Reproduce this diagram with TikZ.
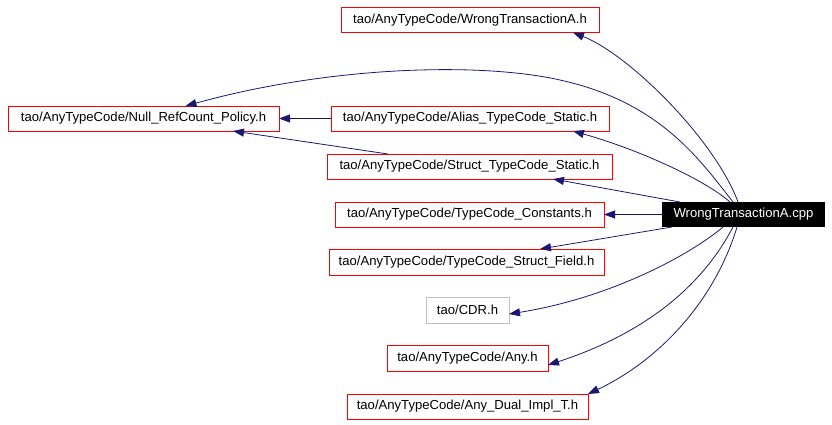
\documentclass[tikz,border=0pt]{standalone}
\usepackage{fontspec}
\setmainfont{Liberation Sans}
\usetikzlibrary{arrows.meta}
\definecolor{edgeblue}{RGB}{25,25,112}
\definecolor{boxred}{RGB}{255,0,0}
\definecolor{boxgray}{RGB}{191,191,191}
\begin{document}
\begin{tikzpicture}[x=1pt,y=-1pt,
  every node/.style={font=\fontsize{13.1}{15}\selectfont, inner sep=0pt, outer sep=0pt, line width=1pt},
  redbox/.style={draw=boxred, minimum height=25pt},
  graybox/.style={draw=boxgray, minimum height=26pt},
  mainbox/.style={fill=black, text=white, minimum height=25pt},
  dep/.style={draw=edgeblue, line width=0.8pt, -{Triangle[length=11pt,width=8pt]}}]
\useasboundingbox (0,0) rectangle (832,424);
\node[redbox, minimum width=258pt] (wth) at (470,20) {tao/AnyTypeCode/WrongTransactionA.h};
\node[redbox, minimum width=271pt] (null) at (143.5,118.5) {tao/AnyTypeCode/Null\_RefCount\_Policy.h};
\node[redbox, minimum width=278pt] (alias) at (470,118.5) {tao/AnyTypeCode/Alias\_TypeCode\_Static.h};
\node[redbox, minimum width=285pt] (struct) at (469.5,166.5) {tao/AnyTypeCode/Struct\_TypeCode\_Static.h};
\node[redbox, minimum width=269pt] (const) at (469.5,214.5) {tao/AnyTypeCode/TypeCode\_Constants.h};
\node[mainbox, minimum width=163pt] (cpp) at (743.5,214.5) {WrongTransactionA.cpp};
\node[redbox, minimum width=275pt, minimum height=26pt] (sfield) at (466.5,262) {tao/AnyTypeCode/TypeCode\_Struct\_Field.h};
\node[graybox, minimum width=83pt] (cdr) at (467.5,310) {tao/CDR.h};
\node[redbox, minimum width=161pt, minimum height=26pt] (any) at (467.5,358) {tao/AnyTypeCode/Any.h};
\node[redbox, minimum width=241pt] (dual) at (467.5,406.5) {tao/AnyTypeCode/Any\_Dual\_Impl\_T.h};

\draw[dep] ([xshift=-5.5pt]cpp.north) .. controls (715,140) and (630,55) .. ([xshift=103pt]wth.south);
\draw[dep] ([xshift=-10.5pt]cpp.north) .. controls (700,160) and (660,102) .. (560,80) .. controls (480,62) and (330,66) .. ([xshift=42pt]null.north);
\draw[dep] (alias.west) -- (null.east);
\draw[dep] ([xshift=-81.5pt]struct.north) -- ([xshift=89.5pt]null.south);
\draw[dep] ([xshift=-13.5pt]cpp.north) .. controls (705,180) and (640,150) .. ([xshift=103pt]alias.south);
\draw[dep] ([xshift=-63.5pt]cpp.north) -- ([xshift=83.5pt]struct.south);
\draw[dep] (cpp.west) -- (const.east);
\draw[dep] ([xshift=-71.5pt]cpp.south) -- ([xshift=73.5pt]sfield.north);
\draw[dep] ([xshift=-20.5pt]cpp.south) .. controls (690,255) and (610,298) .. ([yshift=-4pt]cdr.east);
\draw[dep] ([xshift=-10.5pt]cpp.south) .. controls (700,290) and (640,335) .. ([yshift=-7pt]any.east);
\draw[dep] ([xshift=-6.5pt]cpp.south) .. controls (715,300) and (660,360) .. ([xshift=120.5pt]dual.north);
\end{tikzpicture}
\end{document}
